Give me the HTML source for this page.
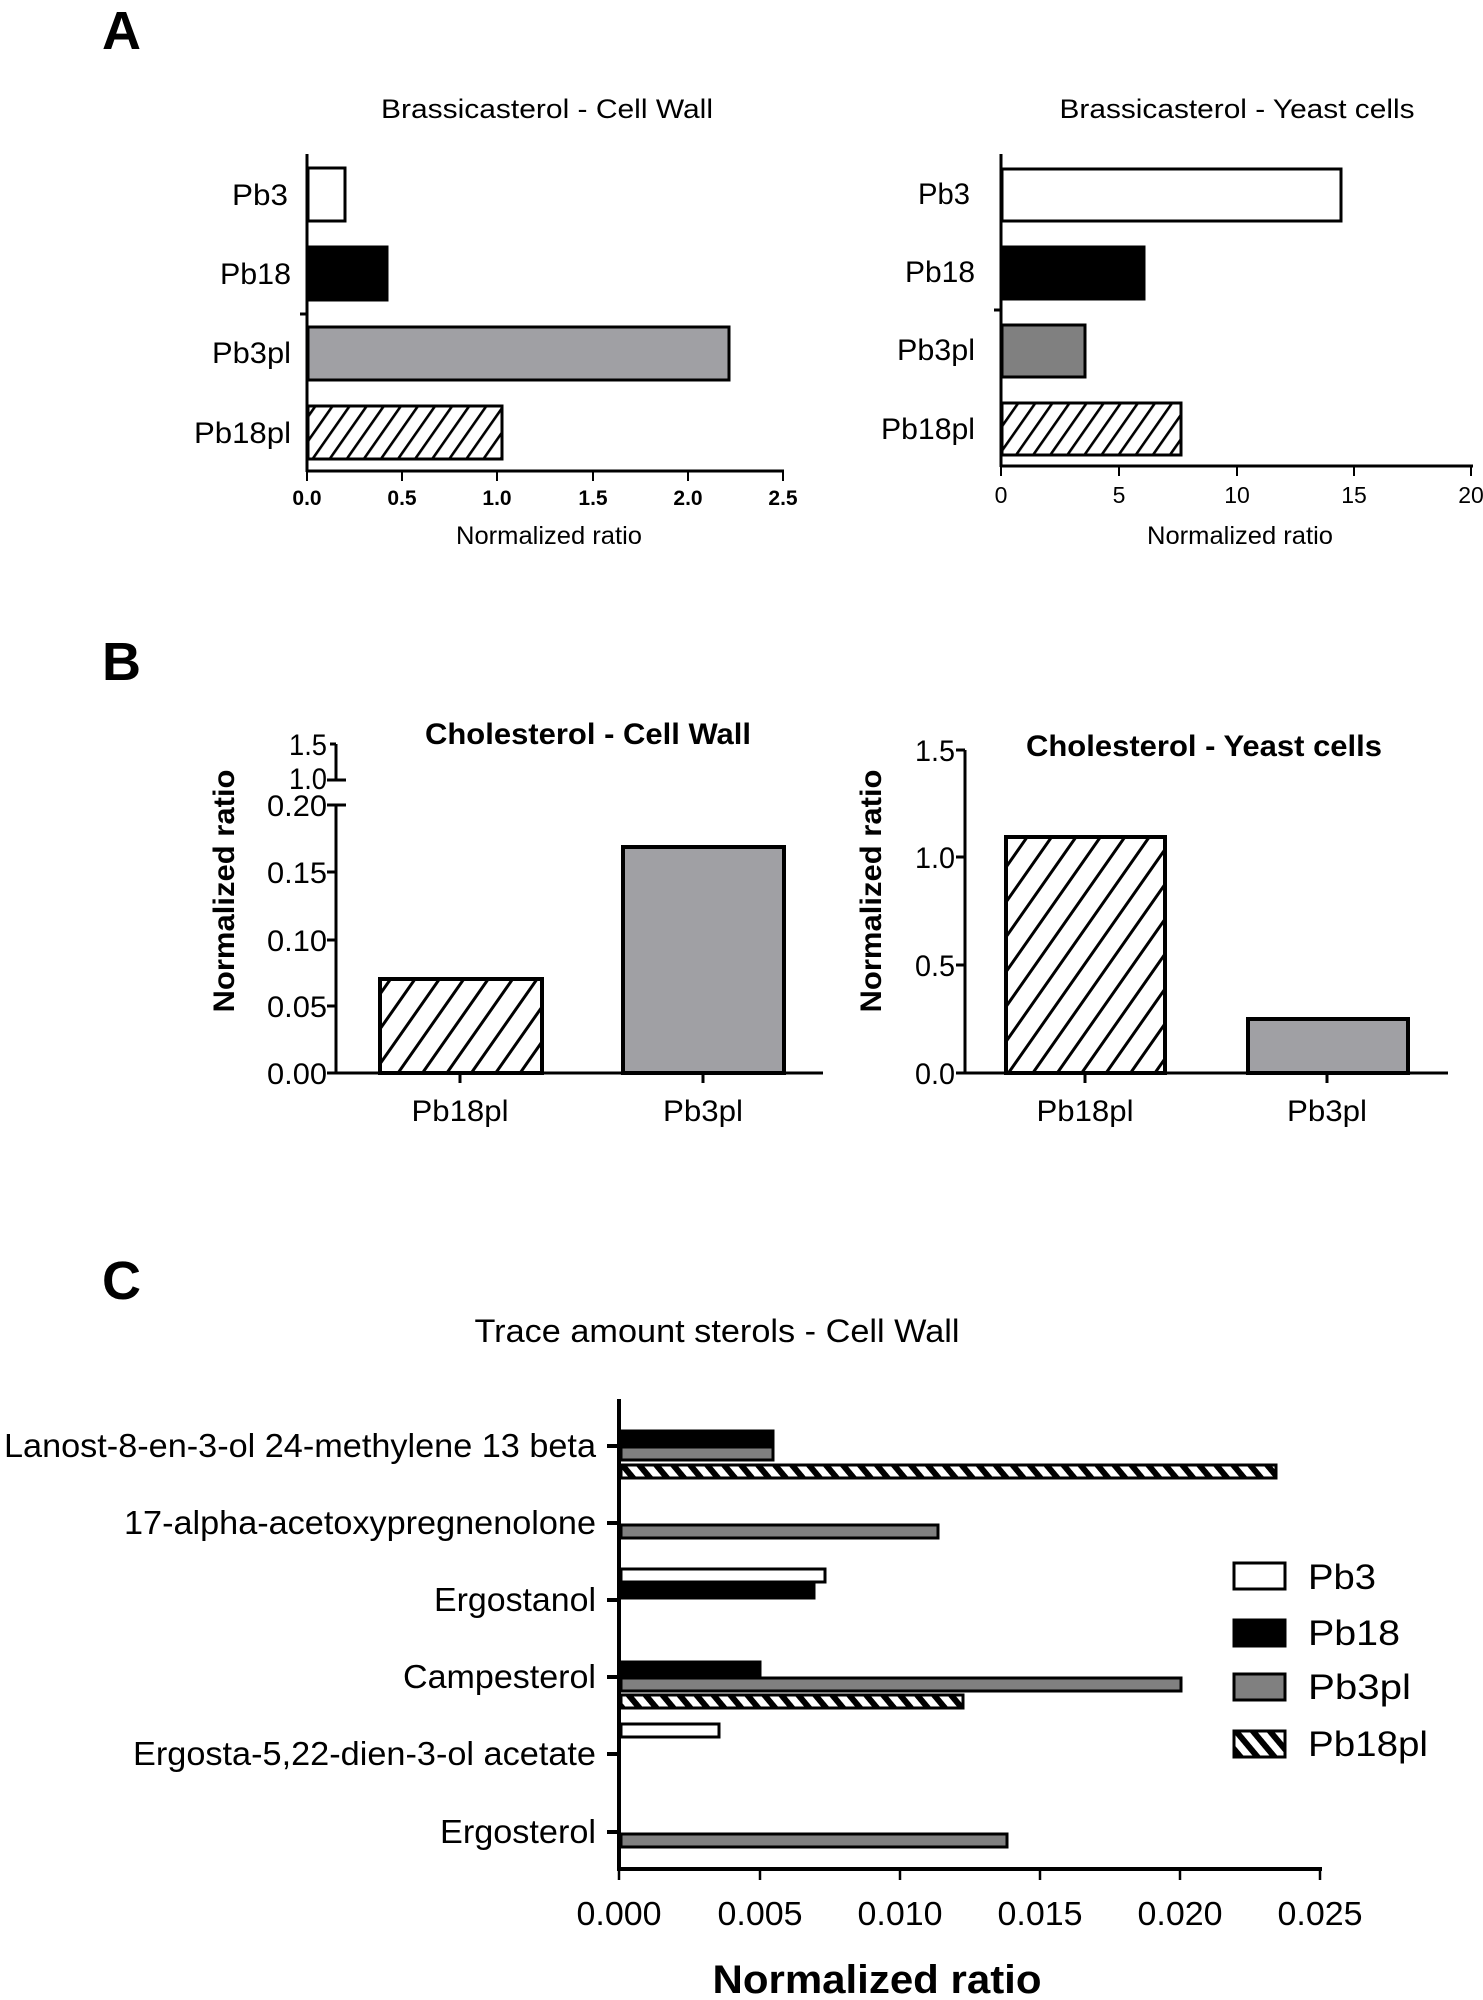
<!DOCTYPE html>
<html><head><meta charset="utf-8"><style>
html,body{margin:0;padding:0;background:#fff}
svg{display:block}
text{font-family:"Liberation Sans",Arial,sans-serif;fill:#000}
</style></head><body>
<svg width="1483" height="2000" viewBox="0 0 1483 2000" xmlns="http://www.w3.org/2000/svg">
<defs>
<pattern id="hA" width="14" height="14" patternUnits="userSpaceOnUse" patternTransform="rotate(35)">
<rect width="14" height="14" fill="#fff"/><rect x="0" y="0" width="2.6" height="14" fill="#000"/></pattern>
<pattern id="hB" width="20" height="20" patternUnits="userSpaceOnUse" patternTransform="rotate(35)">
<rect width="20" height="20" fill="#fff"/><rect x="0" y="0" width="3" height="20" fill="#000"/></pattern>
<pattern id="hC" width="13" height="13" patternUnits="userSpaceOnUse" patternTransform="rotate(-40)">
<rect width="13" height="13" fill="#fff"/><rect x="0" y="0" width="6" height="13" fill="#000"/></pattern>
</defs>

<!-- A -->
<text x="102" y="49" font-size="54" font-weight="bold">A</text>
<text x="547" y="118" font-size="27" text-anchor="middle" textLength="332" lengthAdjust="spacingAndGlyphs">Brassicasterol - Cell Wall</text>
<g stroke="#000" stroke-width="3">
<line x1="307" y1="154" x2="307" y2="472"/>
<line x1="306" y1="471" x2="784" y2="471"/>
<line x1="300" y1="314" x2="307" y2="314"/>
</g>
<g stroke="#000" stroke-width="2">
<line x1="307" y1="471" x2="307" y2="481"/><line x1="402" y1="471" x2="402" y2="481"/><line x1="497" y1="471" x2="497" y2="481"/><line x1="593" y1="471" x2="593" y2="481"/><line x1="688" y1="471" x2="688" y2="481"/><line x1="783" y1="471" x2="783" y2="481"/>
</g>
<g stroke="#000" stroke-width="3">
<rect x="308" y="168" width="37" height="53" fill="#fff"/>
<rect x="308" y="247" width="79" height="53" fill="#000"/>
<rect x="308" y="327" width="421" height="53" fill="#a0a0a4"/>
<rect x="308" y="406" width="194" height="53" fill="url(#hA)"/>
</g>
<g font-size="30" text-anchor="end" lengthAdjust="spacingAndGlyphs">
<text x="288" y="205" textLength="56" lengthAdjust="spacingAndGlyphs">Pb3</text><text x="291" y="284" textLength="71" lengthAdjust="spacingAndGlyphs">Pb18</text><text x="291" y="363" textLength="79" lengthAdjust="spacingAndGlyphs">Pb3pl</text><text x="291" y="443" textLength="97" lengthAdjust="spacingAndGlyphs">Pb18pl</text>
</g>
<g font-size="21" font-weight="bold" text-anchor="middle">
<text x="307" y="505">0.0</text><text x="402" y="505">0.5</text><text x="497" y="505">1.0</text><text x="593" y="505">1.5</text><text x="688" y="505">2.0</text><text x="783" y="505">2.5</text>
</g>
<text x="549" y="544" font-size="25" text-anchor="middle" textLength="186" lengthAdjust="spacingAndGlyphs">Normalized ratio</text>

<text x="1237" y="118" font-size="27" text-anchor="middle" textLength="355" lengthAdjust="spacingAndGlyphs">Brassicasterol - Yeast cells</text>
<g stroke="#000" stroke-width="3">
<line x1="1001" y1="154" x2="1001" y2="467"/>
<line x1="1000" y1="466" x2="1473" y2="466"/>
<line x1="994" y1="310" x2="1001" y2="310"/>
</g>
<g stroke="#000" stroke-width="2">
<line x1="1001" y1="466" x2="1001" y2="476"/><line x1="1119" y1="466" x2="1119" y2="476"/><line x1="1237" y1="466" x2="1237" y2="476"/><line x1="1354" y1="466" x2="1354" y2="476"/><line x1="1471" y1="466" x2="1471" y2="476"/>
</g>
<g stroke="#000" stroke-width="3">
<rect x="1002" y="169" width="339" height="52" fill="#fff"/>
<rect x="1002" y="247" width="142" height="52" fill="#000"/>
<rect x="1002" y="325" width="83" height="52" fill="#808080"/>
<rect x="1002" y="403" width="179" height="52" fill="url(#hA)"/>
</g>
<g font-size="30" text-anchor="end">
<text x="970" y="204" textLength="52" lengthAdjust="spacingAndGlyphs">Pb3</text><text x="975" y="282" textLength="70" lengthAdjust="spacingAndGlyphs">Pb18</text><text x="975" y="360" textLength="78" lengthAdjust="spacingAndGlyphs">Pb3pl</text><text x="975" y="439" textLength="94" lengthAdjust="spacingAndGlyphs">Pb18pl</text>
</g>
<g font-size="23" text-anchor="middle">
<text x="1001" y="503">0</text><text x="1119" y="503">5</text><text x="1237" y="503">10</text><text x="1354" y="503">15</text><text x="1471" y="503">20</text>
</g>
<text x="1240" y="544" font-size="25" text-anchor="middle" textLength="186" lengthAdjust="spacingAndGlyphs">Normalized ratio</text>

<!-- B -->
<text x="102" y="680" font-size="54" font-weight="bold">B</text>
<text x="588" y="744" font-size="30" font-weight="bold" text-anchor="middle" textLength="326" lengthAdjust="spacingAndGlyphs">Cholesterol - Cell Wall</text>
<text transform="translate(234,891) rotate(-90)" font-size="30" font-weight="bold" text-anchor="middle" textLength="243" lengthAdjust="spacingAndGlyphs">Normalized ratio</text>
<g stroke="#000" stroke-width="3">
<line x1="336" y1="744" x2="336" y2="780"/>
<line x1="327" y1="780" x2="346" y2="780"/>
<line x1="336" y1="805" x2="336" y2="1074"/>
<line x1="327" y1="805" x2="346" y2="805"/>
<line x1="335" y1="1073" x2="823" y2="1073"/>
<line x1="327" y1="872" x2="336" y2="872"/><line x1="327" y1="940" x2="336" y2="940"/><line x1="327" y1="1006" x2="336" y2="1006"/><line x1="327" y1="1073" x2="336" y2="1073"/>
<line x1="330" y1="744" x2="336" y2="744"/>
<line x1="460" y1="1073" x2="460" y2="1083"/><line x1="703" y1="1073" x2="703" y2="1083"/>
</g>
<g font-size="30" text-anchor="end">
<text x="327" y="755" textLength="38" lengthAdjust="spacingAndGlyphs">1.5</text><text x="327" y="789" textLength="38" lengthAdjust="spacingAndGlyphs">1.0</text><text x="327" y="816" textLength="60" lengthAdjust="spacingAndGlyphs">0.20</text><text x="327" y="883" textLength="60" lengthAdjust="spacingAndGlyphs">0.15</text><text x="327" y="951" textLength="60" lengthAdjust="spacingAndGlyphs">0.10</text><text x="327" y="1017" textLength="60" lengthAdjust="spacingAndGlyphs">0.05</text><text x="327" y="1084" textLength="60" lengthAdjust="spacingAndGlyphs">0.00</text>
</g>
<g stroke="#000" stroke-width="4">
<rect x="380" y="979" width="162" height="94" fill="url(#hB)"/>
<rect x="623" y="847" width="161" height="226" fill="#a0a0a4"/>
</g>
<g font-size="30" text-anchor="middle"><text x="460" y="1121" textLength="97" lengthAdjust="spacingAndGlyphs">Pb18pl</text><text x="703" y="1121" textLength="80" lengthAdjust="spacingAndGlyphs">Pb3pl</text></g>

<text x="1204" y="756" font-size="30" font-weight="bold" text-anchor="middle" textLength="356" lengthAdjust="spacingAndGlyphs">Cholesterol - Yeast cells</text>
<text transform="translate(881,891) rotate(-90)" font-size="30" font-weight="bold" text-anchor="middle" textLength="243" lengthAdjust="spacingAndGlyphs">Normalized ratio</text>
<g stroke="#000" stroke-width="3">
<line x1="965" y1="750" x2="965" y2="1074"/>
<line x1="964" y1="1073" x2="1448" y2="1073"/>
<line x1="956" y1="750" x2="965" y2="750"/><line x1="956" y1="857" x2="965" y2="857"/><line x1="956" y1="965" x2="965" y2="965"/><line x1="956" y1="1073" x2="965" y2="1073"/>
<line x1="1085" y1="1073" x2="1085" y2="1083"/><line x1="1327" y1="1073" x2="1327" y2="1083"/>
</g>
<g font-size="30" text-anchor="end">
<text x="955" y="761" textLength="40" lengthAdjust="spacingAndGlyphs">1.5</text><text x="955" y="868" textLength="40" lengthAdjust="spacingAndGlyphs">1.0</text><text x="955" y="976" textLength="40" lengthAdjust="spacingAndGlyphs">0.5</text><text x="955" y="1084" textLength="40" lengthAdjust="spacingAndGlyphs">0.0</text>
</g>
<g stroke="#000" stroke-width="4">
<rect x="1006" y="837" width="159" height="236" fill="url(#hB)"/>
<rect x="1248" y="1019" width="160" height="54" fill="#a0a0a4"/>
</g>
<g font-size="30" text-anchor="middle"><text x="1085" y="1121" textLength="97" lengthAdjust="spacingAndGlyphs">Pb18pl</text><text x="1327" y="1121" textLength="80" lengthAdjust="spacingAndGlyphs">Pb3pl</text></g>

<!-- C -->
<text x="102" y="1299" font-size="54" font-weight="bold">C</text>
<text x="717" y="1342" font-size="32" text-anchor="middle" textLength="485" lengthAdjust="spacingAndGlyphs">Trace amount sterols - Cell Wall</text>
<g stroke="#000" stroke-width="4">
<line x1="619" y1="1399" x2="619" y2="1871"/>
<line x1="617" y1="1869" x2="1322" y2="1869"/>
<line x1="607" y1="1446" x2="619" y2="1446"/><line x1="607" y1="1523" x2="619" y2="1523"/><line x1="607" y1="1600" x2="619" y2="1600"/><line x1="607" y1="1677" x2="619" y2="1677"/><line x1="607" y1="1754" x2="619" y2="1754"/><line x1="607" y1="1832" x2="619" y2="1832"/>
</g>
<g stroke="#000" stroke-width="2.5">
<line x1="619" y1="1869" x2="619" y2="1880"/><line x1="760" y1="1869" x2="760" y2="1880"/><line x1="900" y1="1869" x2="900" y2="1880"/><line x1="1040" y1="1869" x2="1040" y2="1880"/><line x1="1180" y1="1869" x2="1180" y2="1880"/><line x1="1320" y1="1869" x2="1320" y2="1880"/>
</g>
<g stroke="#000" stroke-width="3">
<rect x="621" y="1431" width="152" height="13" fill="#000"/>
<rect x="621" y="1447" width="152" height="13" fill="#808080"/>
<rect x="621" y="1465" width="655" height="13" fill="url(#hC)"/>
<rect x="621" y="1525" width="317" height="13" fill="#808080"/>
<rect x="621" y="1569" width="204" height="13" fill="#fff"/>
<rect x="621" y="1585" width="193" height="13" fill="#000"/>
<rect x="621" y="1662" width="139" height="13" fill="#000"/>
<rect x="621" y="1678" width="560" height="13" fill="#808080"/>
<rect x="621" y="1695" width="342" height="13" fill="url(#hC)"/>
<rect x="621" y="1724" width="98" height="13" fill="#fff"/>
<rect x="621" y="1834" width="386" height="13" fill="#808080"/>
</g>
<g font-size="33" text-anchor="end">
<text x="596" y="1457" textLength="592" lengthAdjust="spacingAndGlyphs">Lanost-8-en-3-ol 24-methylene 13 beta</text>
<text x="596" y="1534" textLength="472" lengthAdjust="spacingAndGlyphs">17-alpha-acetoxypregnenolone</text>
<text x="596" y="1611" textLength="162" lengthAdjust="spacingAndGlyphs">Ergostanol</text>
<text x="596" y="1688" textLength="193" lengthAdjust="spacingAndGlyphs">Campesterol</text>
<text x="596" y="1765" textLength="463" lengthAdjust="spacingAndGlyphs">Ergosta-5,22-dien-3-ol acetate</text>
<text x="596" y="1843" textLength="156" lengthAdjust="spacingAndGlyphs">Ergosterol</text>
</g>
<g font-size="33" text-anchor="middle">
<text x="619" y="1925" textLength="85" lengthAdjust="spacingAndGlyphs">0.000</text><text x="760" y="1925" textLength="85" lengthAdjust="spacingAndGlyphs">0.005</text><text x="900" y="1925" textLength="85" lengthAdjust="spacingAndGlyphs">0.010</text><text x="1040" y="1925" textLength="85" lengthAdjust="spacingAndGlyphs">0.015</text><text x="1180" y="1925" textLength="85" lengthAdjust="spacingAndGlyphs">0.020</text><text x="1320" y="1925" textLength="85" lengthAdjust="spacingAndGlyphs">0.025</text>
</g>
<text x="877" y="1993" font-size="40" font-weight="bold" text-anchor="middle" textLength="329" lengthAdjust="spacingAndGlyphs">Normalized ratio</text>
<g stroke="#000" stroke-width="3">
<rect x="1234" y="1563" width="51" height="26" fill="#fff"/>
<rect x="1234" y="1620" width="51" height="26" fill="#000"/>
<rect x="1234" y="1674" width="51" height="26" fill="#808080"/>
<rect x="1234" y="1731" width="51" height="26" fill="url(#hC)"/>
</g>
<g font-size="35">
<text x="1308" y="1589" textLength="68" lengthAdjust="spacingAndGlyphs">Pb3</text><text x="1308" y="1645" textLength="92" lengthAdjust="spacingAndGlyphs">Pb18</text><text x="1308" y="1699" textLength="103" lengthAdjust="spacingAndGlyphs">Pb3pl</text><text x="1308" y="1756" textLength="120" lengthAdjust="spacingAndGlyphs">Pb18pl</text>
</g>
</svg>
</body></html>
